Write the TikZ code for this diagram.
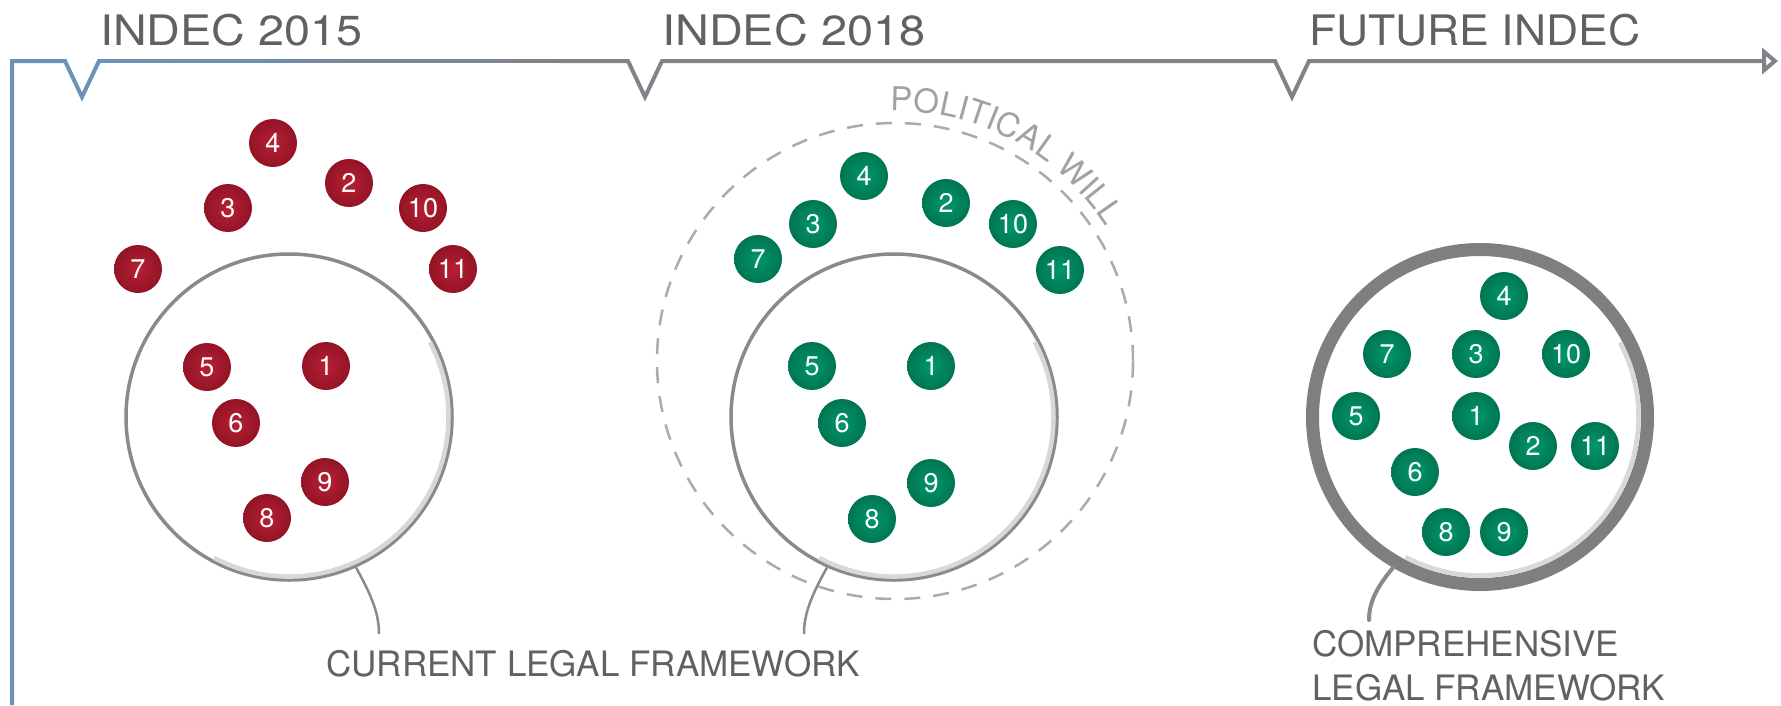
\documentclass[tikz,border=0pt]{standalone}
\usepackage{graphicx}
\usepackage{fontspec}
\setmainfont{TeX Gyre Heros}
\usetikzlibrary{arrows.meta,decorations.text}
\definecolor{tl}{HTML}{808387}
\definecolor{tlblue}{HTML}{6B93B8}
\definecolor{txt}{HTML}{616161}
\definecolor{rin}{HTML}{B82034}
\definecolor{rout}{HTML}{921425}
\definecolor{gin}{HTML}{00986C}
\definecolor{gout}{HTML}{007552}
\definecolor{ring}{HTML}{8A8A8A}
\definecolor{ringthick}{HTML}{7F7F82}
\definecolor{bevelcol}{HTML}{D8D8D8}
\definecolor{pwgray}{HTML}{ABABAB}
\definecolor{pwtext}{HTML}{A2A2A2}
\begin{document}
\begin{tikzpicture}[x=1pt,y=1pt,
  dotbase/.style={circle, minimum size=48pt, inner sep=0pt, text=white, font=\fontsize{27}{27}\selectfont},
  rdot/.style={dotbase, inner color=rin, outer color=rout},
  gdot/.style={dotbase, inner color=gin, outer color=gout},
  frame/.style={circle, draw=ring, line width=3.5pt, minimum size=326pt, inner sep=0pt, fill=white},
  bevel/.style={draw=bevelcol, line width=4.5pt},
  leader/.style={draw=ring, line width=2.5pt},
  tline/.style={line width=4pt, line join=miter},
  head/.style={anchor=base west, inner sep=0pt, text=txt, font=\fontsize{42}{42}\selectfont},
  lab/.style={anchor=base west, inner sep=0pt, text=txt, font=\fontsize{35}{35}\selectfont}
]
\useasboundingbox (0,-705) rectangle (1781,0);
\fill[white] (0,-705) rectangle (1781,0);

% timeline
\draw[tline, draw=tlblue] (12,-705) -- (12,-61) -- (65,-61) -- (82,-97) -- (99,-61) -- (101,-61);
\foreach \i in {0,...,45}{
  \pgfmathtruncatemacro\p{round(\i*100/45)}
  \pgfmathsetmacro\xa{100+\i*10}
  \draw[line width=4pt, draw=tl!\p!tlblue] (\xa,-61) -- (\xa+11,-61);
}
\draw[tline, draw=tl, -{Triangle[open, length=16pt, width=26pt]}]
  (559,-61) -- (628,-61) -- (645,-97) -- (662,-61) -- (1275,-61) -- (1292,-97) -- (1309,-61) -- (1778,-61);

\node[head] (y2015) at (100,-45) {\resizebox{262pt}{\height}{INDEC 2015}};
\node[head] (y2018) at (662,-45) {\resizebox{263pt}{\height}{INDEC 2018}};
\node[head] (yfut) at (1309,-45) {\resizebox{331pt}{\height}{FUTURE INDEC}};

% political will
\node[circle, draw=pwgray, dash pattern=on 16pt off 13pt, line width=2.5pt, minimum size=476pt, inner sep=0pt] (pw) at (895,-361) {};
\path[decorate, decoration={text along path, text align=left,
  text={|\fontsize{33}{33}\selectfont\color{pwtext}|POLITICAL WILL}}]
  (pw.center) ++(91:250pt) arc[start angle=91, end angle=15, radius=250pt];

% frames
\node[frame] (f1) at (289,-417) {};
\node[frame] (f2) at (894,-417) {};
\node[circle, draw=ringthick, line width=13pt, minimum size=335pt, inner sep=0pt, fill=white] (f3) at (1480,-417) {};
\draw[bevel] (f1.center) ++(-118:159.5pt) arc[start angle=-118, end angle=28, radius=159.5pt];
\draw[bevel] (f2.center) ++(-118:159.5pt) arc[start angle=-118, end angle=28, radius=159.5pt];
\draw[bevel] (f3.center) ++(-118:158.5pt) arc[start angle=-118, end angle=28, radius=158.5pt];

% red dots
\node[rdot] (r4) at (273,-143) {4};
\node[rdot] (r2) at (349,-183) {2};
\node[rdot] (r3) at (228,-208) {3};
\node[rdot] (r10) at (423,-208) {10};
\node[rdot] (r7) at (138,-269) {7};
\node[rdot] (r11) at (453,-269) {11};
\node[rdot] (r5) at (207,-367) {5};
\node[rdot] (r1) at (326,-366) {1};
\node[rdot] (r6) at (236,-423) {6};
\node[rdot] (r9) at (325,-482) {9};
\node[rdot] (r8) at (267,-518) {8};

% green dots 2018
\node[gdot] (g4) at (864,-176) {4};
\node[gdot] (g2) at (946,-203) {2};
\node[gdot] (g3) at (813,-224) {3};
\node[gdot] (g10) at (1013,-224) {10};
\node[gdot] (g7) at (758,-259) {7};
\node[gdot] (g11) at (1060,-270) {11};
\node[gdot] (g5) at (812,-366) {5};
\node[gdot] (g1) at (931,-366) {1};
\node[gdot] (g6) at (842,-423) {6};
\node[gdot] (g9) at (931,-483) {9};
\node[gdot] (g8) at (872,-519) {8};

% green dots future
\node[gdot] (h4) at (1504,-296) {4};
\node[gdot] (h7) at (1387,-354) {7};
\node[gdot] (h3) at (1476,-354) {3};
\node[gdot] (h10) at (1566,-354) {10};
\node[gdot] (h5) at (1356,-416) {5};
\node[gdot] (h1) at (1476,-416) {1};
\node[gdot] (h2) at (1533,-446) {2};
\node[gdot] (h11) at (1595,-446) {11};
\node[gdot] (h6) at (1415,-472) {6};
\node[gdot] (h8) at (1446,-532) {8};
\node[gdot] (h9) at (1504,-532) {9};

% leaders
\coordinate (l1) at (379,-634);
\coordinate (l2) at (804,-634);
\coordinate (l3) at (1369,-620);
\draw[leader] (f1.-66) .. controls (373,-598) and (379,-615) .. (l1);
\draw[leader] (f2.-114) .. controls (810,-598) and (804,-615) .. (l2);
\draw[leader, line width=4pt, line cap=round] (f3.-120) .. controls (1376,-588) and (1369,-603) .. (l3);

% labels
\node[lab] (cur) at (326,-676) {CURRENT LEGAL FRAMEWORK};
\node[lab] (comp1) at (1312,-656) {COMPREHENSIVE};
\node[lab] (comp2) at (1312,-700) {LEGAL FRAMEWORK};
\end{tikzpicture}
\end{document}
